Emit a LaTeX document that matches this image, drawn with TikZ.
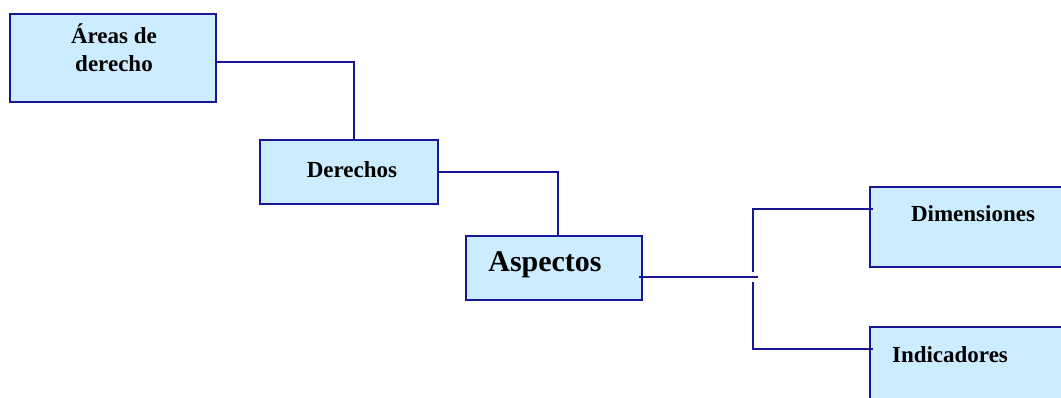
\documentclass[tikz,border=0pt]{standalone}
\usepackage{fontspec}
\setmainfont{Liberation Serif}
\definecolor{lineblue}{RGB}{22,22,150}
\definecolor{boxblue}{RGB}{204,236,255}
\begin{document}
\begin{tikzpicture}[x=1pt,y=-1pt,
  box/.style={draw=lineblue, fill=boxblue, line width=2.2pt, rectangle, inner sep=0pt, anchor=north west},
  lbl/.style={font=\fontsize{23}{26}\selectfont\bfseries, anchor=base, inner sep=0pt},
  conn/.style={draw=lineblue, line width=2.2pt}]
\useasboundingbox (0,0) rectangle (1061,398);
\fill[white] (0,0) rectangle (1061,398);
% boxes
\node[box, minimum width=206pt, minimum height=88pt] (b1) at (9,13) {};
\node[box, minimum width=178pt, minimum height=64pt] (b2) at (259,139) {};
\node[box, minimum width=176pt, minimum height=64pt] (b3) at (465,235) {};
\node[box, minimum width=210pt, minimum height=80pt] (b4) at (869,186) {};
\node[box, minimum width=210pt, minimum height=80pt] (b5) at (869,326) {};
% labels
\node[lbl] (t1a) at (114,44) {Áreas de};
\node[lbl] (t1b) at (114,72) {derecho};
\node[lbl] (t2) at (352,178) {Derechos};
\node[lbl, font=\fontsize{30}{34}\selectfont\bfseries] (t3) at (545,272) {Aspectos};
\node[lbl] (t4) at (973,222) {Dimensiones};
\node[lbl] (t5) at (950,362) {Indicadores};
% connectors
\coordinate (j) at (753,277);
\draw[conn] ([yshift=-4pt,xshift=-2pt]b1.east) -| ([xshift=5pt]b2.north);
\draw[conn] ([xshift=-2pt]b2.east) -| ([xshift=4pt]b3.north);
\draw[conn] ([xshift=-4pt]b3.east |- j) -- ([xshift=5pt]j);
\draw[conn] ([yshift=5pt]j) |- ([yshift=18pt,xshift=4pt]b4.west);
\draw[conn] ([yshift=-5pt]j) |- ([yshift=18pt,xshift=4pt]b5.west);
\end{tikzpicture}
\end{document}
